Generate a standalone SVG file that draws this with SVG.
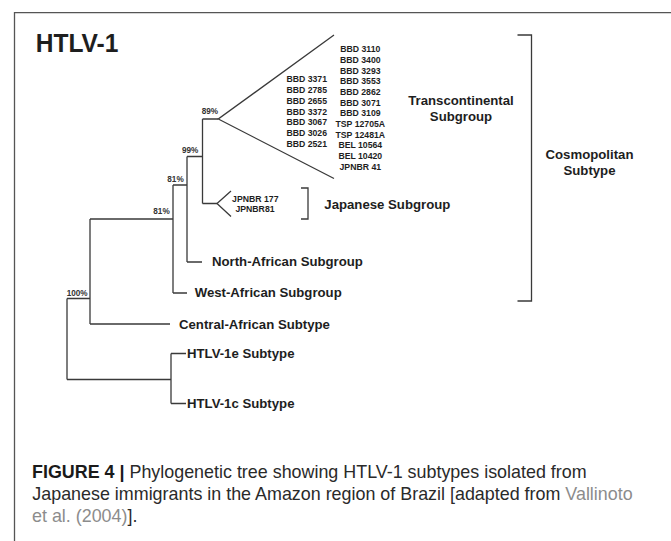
<svg xmlns="http://www.w3.org/2000/svg" width="671" height="541" viewBox="0 0 671 541">
<style>
text{font-family:"Liberation Sans",Arial,sans-serif;fill:#1e1e1e}
.b{font-weight:bold}
.lab{font-size:13.2px;font-weight:bold}
.leaf{font-size:8.7px;font-weight:bold;text-anchor:middle}
.pct{font-size:8.2px;font-weight:bold;fill:#333}
.ln{fill:none;stroke:#3a3a3a;stroke-width:1.3}
.cap{font-size:17.9px;fill:#2a2a2a}
.gray{fill:#8c8c8c}
</style>
<rect width="671" height="541" fill="#fff"/>
<path d="M14.5,541 V12.7 H671" fill="none" stroke="#555" stroke-width="1.3"/>
<text id="title" class="b" x="35.7" y="52.3" font-size="26" textLength="82.7" lengthAdjust="spacingAndGlyphs">HTLV-1</text>

<g id="connectors" class="ln">
<path d="M67,298.5 V379.5 M67,298.5 H90 M67,379.5 H171"/>
<path d="M171,353.5 V403.5 M171,353.5 H186 M171,403.5 H186"/>
<path d="M90,219 V324 M90,324 H170 M90,219 H173"/>
<path d="M173,185 V293 M173,293 H187 M173,185 H187"/>
<path d="M187,156.5 V262 M187,262 H202 M187,156.5 H202.5"/>
<path d="M202.5,119 V203.5 M202.5,119 H218.3 M202.5,203.5 H217"/>
<path d="M231,191 L217,203.5 L231,216.5"/>
<path d="M334,35 L218.3,119 L334,178.5"/>
<path d="M301,188 H308 V219 H301"/>
<path d="M517.5,35 H531.5 V301 H517.5"/>
</g>

<g id="bootstrap">
<text class="pct" x="201.7" y="114">89%</text>
<text class="pct" x="182" y="152.5">99%</text>
<text class="pct" x="167.3" y="182">81%</text>
<text class="pct" x="153.3" y="214.3">81%</text>
<text class="pct" x="66.7" y="296">100%</text>
</g>

<g id="transcontinental-leaves">
<text class="leaf" x="360.3" y="52.1">BBD 3110</text>
<text class="leaf" x="360.3" y="62.8">BBD 3400</text>
<text class="leaf" x="360.3" y="73.5">BBD 3293</text>
<text class="leaf" x="360.3" y="84.2">BBD 3553</text>
<text class="leaf" x="360.3" y="94.9">BBD 2862</text>
<text class="leaf" x="360.3" y="105.6">BBD 3071</text>
<text class="leaf" x="360.3" y="116.3">BBD 3109</text>
<text class="leaf" x="360.3" y="127">TSP 12705A</text>
<text class="leaf" x="360.3" y="137.7">TSP 12481A</text>
<text class="leaf" x="360.3" y="148.4">BEL 10564</text>
<text class="leaf" x="360.3" y="159.1">BEL 10420</text>
<text class="leaf" x="360.3" y="169.8">JPNBR 41</text>
<text class="leaf" x="306.7" y="82.4">BBD 3371</text>
<text class="leaf" x="306.7" y="93.1">BBD 2785</text>
<text class="leaf" x="306.7" y="103.8">BBD 2655</text>
<text class="leaf" x="306.7" y="114.5">BBD 3372</text>
<text class="leaf" x="306.7" y="125.2">BBD 3067</text>
<text class="leaf" x="306.7" y="135.9">BBD 3026</text>
<text class="leaf" x="306.7" y="146.6">BBD 2521</text>
</g>

<g id="japanese-leaves">
<text class="leaf" x="255.3" y="201.6">JPNBR 177</text>
<text class="leaf" x="255" y="212.4">JPNBR81</text>
</g>

<g id="transcontinental"><text class="lab" x="461" y="104.7" text-anchor="middle">Transcontinental</text><text class="lab" x="461" y="120.5" text-anchor="middle">Subgroup</text></g>
<g id="cosmopolitan"><text class="lab" x="589.5" y="159.3" text-anchor="middle">Cosmopolitan</text><text class="lab" x="589.5" y="174.8" text-anchor="middle">Subtype</text></g>
<g id="japanese"><text class="lab" x="324.3" y="209">Japanese Subgroup</text></g>
<g id="north-african"><text class="lab" x="212" y="266.4">North-African Subgroup</text></g>
<g id="west-african"><text class="lab" x="194.7" y="297.3">West-African Subgroup</text></g>
<g id="central-african"><text class="lab" x="179" y="328.5">Central-African Subtype</text></g>
<g id="htlv1e"><text class="lab" x="187" y="358.2">HTLV-1e Subtype</text></g>
<g id="htlv1c"><text class="lab" x="187" y="408.2">HTLV-1c Subtype</text></g>

<g id="caption">
<text class="cap" x="32" y="477.5"><tspan class="b" fill="#1a1a1a">FIGURE 4 | </tspan>Phylogenetic tree showing HTLV-1 subtypes isolated from</text>
<text class="cap" x="32.3" y="499.5">Japanese immigrants in the Amazon region of Brazil [adapted from <tspan class="gray">Vallinoto</tspan></text>
<text class="cap" x="32" y="521.5"><tspan class="gray">et al. (2004)</tspan>].</text>
</g>
</svg>
